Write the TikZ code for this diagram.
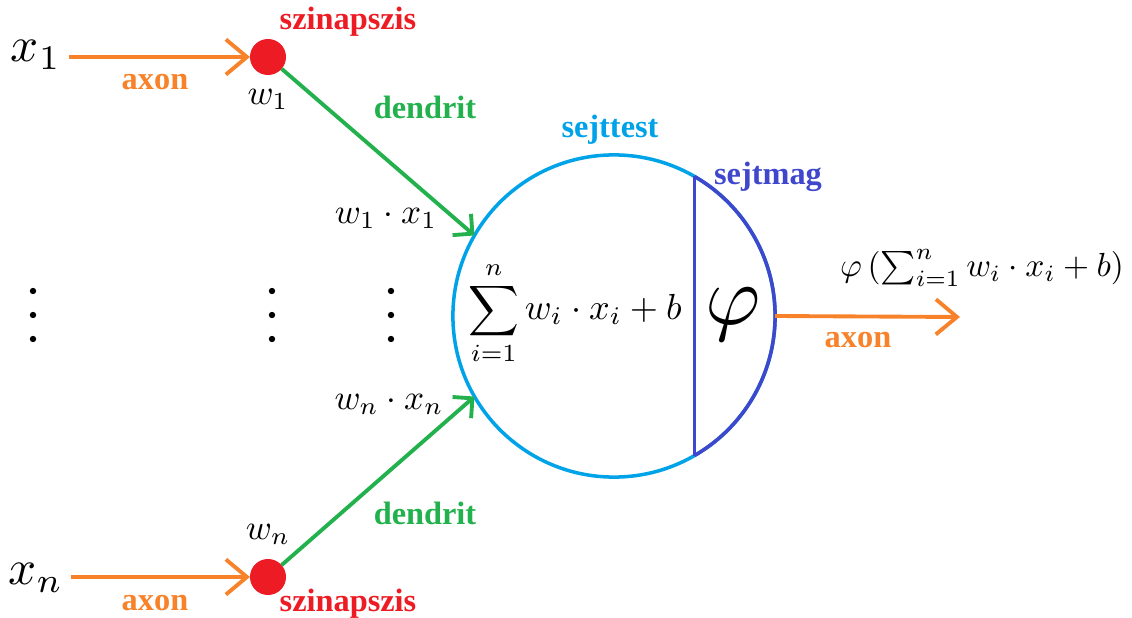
\documentclass[tikz,border=0pt]{standalone}
\usepackage{fontspec}
\newfontfamily\lblfont{Liberation Serif}
\usetikzlibrary{arrows.meta,positioning}
\definecolor{axonorange}{HTML}{F7822A}
\definecolor{synred}{HTML}{ED1C24}
\definecolor{dendgreen}{HTML}{22B14C}
\definecolor{somacyan}{HTML}{00A2E8}
\definecolor{nucindigo}{HTML}{3F48CC}
\tikzset{
  synapse/.style={circle,fill=synred,minimum size=0.36cm,inner sep=0pt,outer sep=0pt},
  lbl/.style={font=\lblfont\bfseries\fontsize{9.2}{10}\selectfont,text=#1,inner sep=1pt},
  lbl/.default={black},
  mathlbl/.style={inner sep=1pt},
  inputlbl/.style={inner sep=2pt},
  axonarrow/.style={-{Straight Barb[length=6pt,width=10pt]},line width=1.1pt,draw=axonorange},
  dendarrow/.style={-{Straight Barb[length=4pt,width=8pt]},line width=1.1pt,draw=dendgreen},
  cellbody/.style={circle,draw=somacyan,line width=1pt,minimum size=3.22cm,inner sep=0pt,outer sep=0pt},
}
\begin{document}
\begin{tikzpicture}[x=0.01cm,y=-0.01cm]
  \useasboundingbox (0,0) rectangle (1132,618);
  % inputs and synapses
  \node[inputlbl] (x1) at (36,55) {\scalebox{1.4}{$x_1$}};
  \node[inputlbl] (xn) at (36,578) {\scalebox{1.4}{$x_n$}};
  \node[synapse] (syn1) at (268,57) {};
  \node[synapse] (synn) at (268,577) {};
  \node[mathlbl,below=0.1cm of syn1] (w1) {$w_1$};
  \node[mathlbl,above=0.1cm of synn] (wn) {$w_n$};
  % cell body and nucleus
  \node[cellbody] (soma) at (614,316) {};
  \draw[nucindigo,line width=1pt] (soma.-60) arc[start angle=-60,end angle=60,radius=1.61cm];
  \draw[nucindigo,line width=1pt] (soma.60) -- (soma.-60);
  \node (sum) at (575,313) {$\displaystyle\sum_{i=1}^{n}$\,\scalebox{1.03}{$w_i\cdot x_i+b$}};
  \node (act) at (733,315) {\scalebox{2.4}{$\varphi$}};
  \coordinate (out) at (960,317);
  \node[mathlbl] (y) at (982,268) {\scalebox{0.95}{$\varphi\,(\sum_{i=1}^{n} w_i\cdot x_i+b)$}};
  \node[mathlbl] (wx1) at (386,218) {$w_1\cdot x_1$};
  \node[mathlbl] (wxn) at (389,404) {$w_n\cdot x_n$};
  % connectors
  \draw[axonarrow] (x1.east |- syn1) -- (syn1);
  \draw[axonarrow] (xn.east |- synn) -- (synn);
  \draw[dendarrow] (syn1) -- (soma.150);
  \draw[dendarrow] (synn) -- (soma.210);
  \draw[axonarrow] (soma.east) -- (out);
  % labels
  \node[lbl=synred] (synlbl1) at (348,22) {szinapszis};
  \node[lbl=synred] (synlbln) at (348,604) {szinapszis};
  \node[lbl=axonorange] (axlbl1) at (155,82) {axon};
  \node[lbl=axonorange] (axlbln) at (155,603) {axon};
  \node[lbl=axonorange] (axlblout) at (858,340) {axon};
  \node[lbl=dendgreen] (dlbl1) at (425,107) {dendrit};
  \node[lbl=dendgreen] (dlbln) at (425,513) {dendrit};
  \node[lbl=somacyan] (somalbl) at (610,130) {sejttest};
  \node[lbl=nucindigo] (nuclbl) at (768,177) {sejtmag};
  % vertical dots
  \foreach \xx in {33,272,391}
    \foreach \yy in {291,315,339}
      \fill (\xx,\yy) circle[radius=0.9pt];
\end{tikzpicture}
\end{document}
